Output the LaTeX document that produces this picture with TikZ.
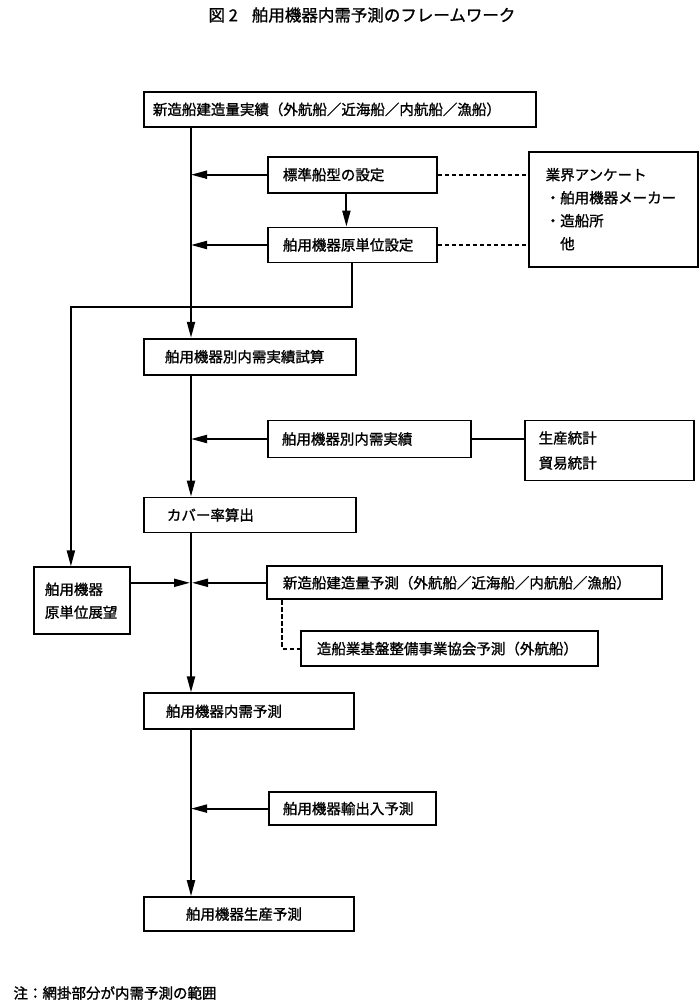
\documentclass[tikz,border=0pt]{standalone}
\usepackage{fontspec}
\newfontfamily\jpfont[FakeBold=1.2]{Noto Sans CJK JP}
\usetikzlibrary{arrows.meta,positioning}

\begin{document}
\begin{tikzpicture}[x=1pt, y=-1pt,
  box/.style={rectangle, draw, line width=1.8pt, align=left, inner ysep=0pt, font=\jpfont\fontsize{14.5}{23}\selectfont},
  arr/.style={-{Triangle[length=16pt,width=8pt]}, line width=2pt},
  link/.style={line width=2pt},
  dashline/.style={dash pattern=on 4.5pt off 2.5pt, line width=1.9pt},
  lab/.style={font=\jpfont\fontsize{14.5}{18}\selectfont}
]
\useasboundingbox (0,0) rectangle (700,1001);
\node[anchor=west, font=\jpfont\fontsize{16.5}{20}\selectfont] (title) at (205,15) {図 2\hspace{14pt}舶用機器内需予測のフレームワーク};
% main column
\node[box, text width=374pt, inner xsep=9pt, minimum height=35pt, anchor=north west] (src) at (143,91) {新造船建造量実績（外航船／近海船／内航船／漁船）};
\node[box, text width=170pt, inner xsep=21pt, minimum height=36pt, below=210pt of src.south west, anchor=north west] (trial) {舶用機器別内需実績試算};
\node[box, text width=166pt, inner xsep=23pt, minimum height=35pt, below=121pt of trial.south west, anchor=north west] (cover) {カバー率算出};
\node[box, text width=166pt, inner xsep=22pt, minimum height=36pt, below=159pt of cover.south west, anchor=north west] (domestic) {舶用機器内需予測};
\node[box, text width=126pt, inner xsep=42pt, minimum height=34pt, below=166pt of domestic.south west, anchor=north west] (prod) {舶用機器生産予測};
% side inputs
\node[box, text width=139pt, inner xsep=15pt, minimum height=36pt, below right=28pt and 124pt of src.south west, anchor=north west] (std) {標準船型の設定};
\node[box, text width=139pt, inner xsep=15pt, minimum height=35pt, below=33pt of std.south west, anchor=north west] (gen) {舶用機器原単位設定};
\node[box, text width=135pt, inner xsep=17pt, minimum height=115pt, anchor=north west] (survey) at ([xshift=90pt,yshift=5pt]std.north east) {業界アンケート\\・舶用機器メーカー\\・造船所\\　他};
\node[box, text width=175pt, inner xsep=14pt, minimum height=37pt, below right=44pt and 124pt of trial.south west, anchor=north west] (actual) {舶用機器別内需実績};
\node[box, text width=141pt, inner xsep=14pt, minimum height=60pt, font=\jpfont\fontsize{14.5}{25}\selectfont, right=52pt of actual.north east, anchor=north west] (stats) {生産統計\\貿易統計};
\node[box, text width=74pt, inner xsep=11pt, minimum height=67pt, below left=33pt and 110pt of cover.south west, anchor=north west] (outlook) {舶用機器\\原単位展望};
\node[box, text width=363pt, inner xsep=16pt, minimum height=33pt, below right=32pt and 123pt of cover.south west, anchor=north west] (forecast) {新造船建造量予測（外航船／近海船／内航船／漁船）};
\node[box, text width=265pt, inner xsep=16pt, minimum height=35pt, below right=30pt and 34pt of forecast.south west, anchor=north west] (assoc) {造船業基盤整備事業協会予測（外航船）};
\node[box, text width=139pt, inner xsep=14pt, minimum height=33pt, below right=61pt and 125pt of domestic.south west, anchor=north west] (export) {舶用機器輸出入予測};
\node[lab, anchor=west] (note) at (10,993) {注：網掛部分が内需予測の範囲};
% trunk
\coordinate (trunk) at ([xshift=48pt]src.south west);
\draw[arr] (trunk) -- (trunk |- trial.north);
\draw[arr] (trunk |- trial.south) -- (trunk |- cover.north);
\draw[arr] (trunk |- cover.south) -- (trunk |- domestic.north);
\draw[arr] (trunk |- domestic.south) -- (trunk |- prod.north);
% inputs into trunk
\draw[arr] (std.west) -- (trunk |- std.west);
\draw[arr] ([xshift=-6pt]std.south) -- ([xshift=-6pt]gen.north);
\draw[arr] (gen.west) -- (trunk |- gen.west);
\draw[arr] (actual.west) -- (trunk |- actual.west);
\draw[arr] (outlook.east |- forecast.west) -- ([xshift=-1pt]trunk |- forecast.west);
\draw[arr] (forecast.west) -- ([xshift=1pt]trunk |- forecast.west);
\draw[arr] (export.west) -- (trunk |- export.west);
\coordinate (bend) at ([yshift=-44pt]gen.south);
\draw[arr] (gen.south) -- (bend) -| ([xshift=-11pt]outlook.north);
\draw[link] (actual.east) -- (stats.west |- actual.east);
% survey links
\draw[dashline] (std.east) -- (survey.west |- std.east);
\draw[dashline] (gen.east) -- (survey.west |- gen.east);
\draw[dashline] ([xshift=16pt]forecast.south west) |- (assoc.west);
\end{tikzpicture}
\end{document}
